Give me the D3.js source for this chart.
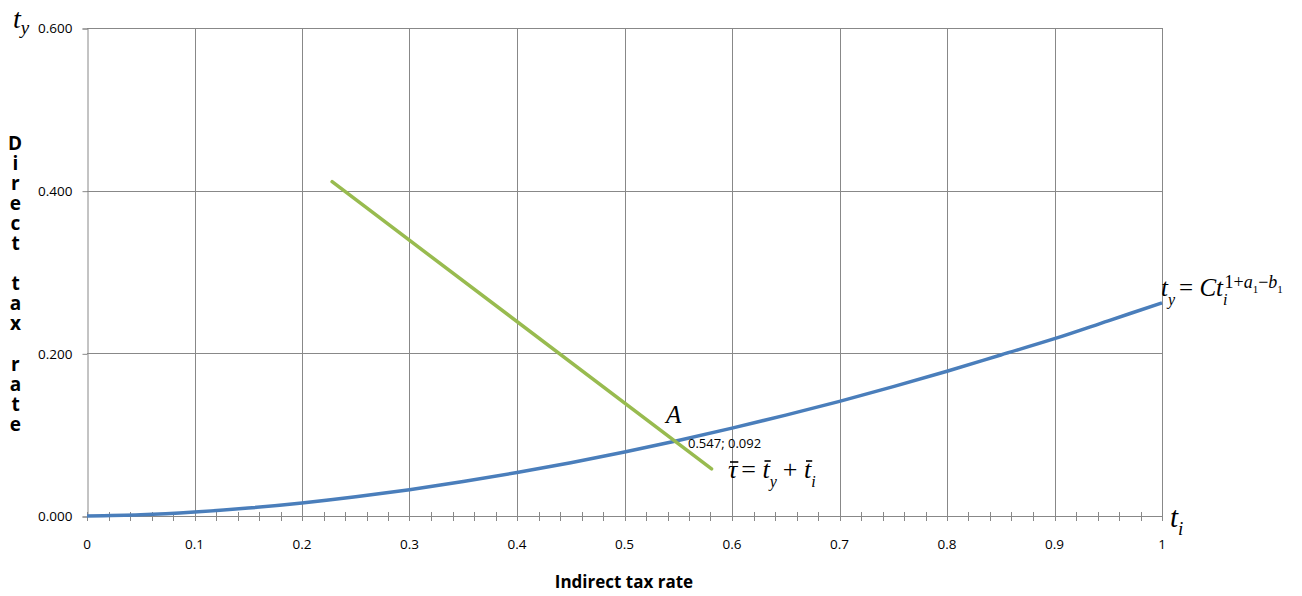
<!DOCTYPE html>
<html>
<head>
<meta charset="utf-8">
<script src="https://cdn.jsdelivr.net/npm/d3@7"></script>
<style>
  html, body { margin: 0; padding: 0; background: #fff; }
  svg { display: block; }
  .tick-lbl { font-family: "Open Sans", "Liberation Sans", sans-serif; font-size: 13px; fill: #000; }
  .math { font-family: "Liberation Serif", "DejaVu Serif", serif; fill: #000; }
</style>
</head>
<body>
<svg id="chart" width="1302" height="596"></svg>
<script>
// Indirect tax rate (x) against direct tax rate (y)
const tiValues = [0, 0.05, 0.1, 0.15, 0.2, 0.25, 0.3, 0.35, 0.4, 0.45, 0.5,
                  0.55, 0.6, 0.65, 0.7, 0.75, 0.8, 0.85, 0.9, 0.95, 1];
const tyValues = [0, 0.0014, 0.0048, 0.0097, 0.016, 0.0236, 0.0324, 0.0423, 0.0534, 0.0655, 0.0786,
                  0.0928, 0.108, 0.124, 0.141, 0.159, 0.178, 0.198, 0.218, 0.240, 0.262];
// Budget line: tau = t_y + t_i
const budgetTi = [0.228, 0.581];
const budgetTy = [0.411, 0.058];
// Intersection point A
const pointA = { ti: 0.547, ty: 0.092 };
const xTicks = [0, 0.1, 0.2, 0.3, 0.4, 0.5, 0.6, 0.7, 0.8, 0.9, 1];
const xTickLabels = ["0", "0.1", "0.2", "0.3", "0.4", "0.5", "0.6", "0.7", "0.8", "0.9", "1"];
const yTicks = [0, 0.2, 0.4, 0.6];
const yTickLabels = ["0.000", "0.200", "0.400", "0.600"];
const yTitle = "Direct tax rate";
const xTitle = "Indirect tax rate";

const svg = d3.select("#chart");
const plotL = 87, plotR = 1162, plotT = 28, plotB = 516;
const x = d3.scaleLinear().domain([0, 1]).range([plotL, plotR]);
const y = d3.scaleLinear().domain([0, 0.6]).range([plotB, plotT]);
const gridColor = "#888888";

// Vertical grid lines
svg.append("g").selectAll("line").data(xTicks.slice(1)).join("line")
  .attr("x1", d => Math.round(x(d)) + 0.5).attr("x2", d => Math.round(x(d)) + 0.5)
  .attr("y1", plotT).attr("y2", plotB)
  .attr("stroke", gridColor).attr("stroke-width", 1);

// Horizontal grid lines
svg.append("g").selectAll("line").data(yTicks.slice(1)).join("line")
  .attr("x1", plotL).attr("x2", plotR)
  .attr("y1", d => Math.round(y(d)) + 0.5).attr("y2", d => Math.round(y(d)) + 0.5)
  .attr("stroke", gridColor).attr("stroke-width", 1);

// Y axis
const yAxis = d3.axisLeft(y).tickValues(yTicks).tickSize(5)
  .tickFormat((d, i) => yTickLabels[i]).tickPadding(10);
const gy = svg.append("g").attr("transform", `translate(${plotL + 0.5},0.5)`).call(yAxis);
gy.select(".domain").attr("stroke", gridColor);
gy.selectAll(".tick line").attr("stroke", gridColor);
gy.selectAll(".tick text").attr("class", "tick-lbl").attr("fill", "#000")
  .style("font-size", "13.5px");

// X axis: line with minor ticks crossing it every 0.02
const minor = d3.range(0, 51).map(i => i / 50);
svg.append("line").attr("x1", plotL).attr("x2", plotR)
  .attr("y1", plotB + 0.5).attr("y2", plotB + 0.5).attr("stroke", gridColor);
svg.append("g").selectAll("line").data(minor).join("line")
  .attr("x1", d => Math.round(x(d)) + 0.5).attr("x2", d => Math.round(x(d)) + 0.5)
  .attr("y1", plotB - 4).attr("y2", plotB + 5)
  .attr("stroke", gridColor);
svg.append("g").selectAll("text").data(xTicks).join("text")
  .attr("class", "tick-lbl").style("font-size", "13.5px")
  .attr("x", d => x(d)).attr("y", plotB + 33)
  .attr("text-anchor", "middle")
  .text((d, i) => xTickLabels[i]);

// Curve t_y = C t_i^(1+a1-b1)
const line = d3.line().x(d => x(d[0])).y(d => y(d[1])).curve(d3.curveCatmullRom);
svg.append("path")
  .datum(tiValues.map((t, i) => [t, tyValues[i]]))
  .attr("d", line).attr("fill", "none")
  .attr("stroke", "#4a7ebb").attr("stroke-width", 3.5);

// Budget line
svg.append("path")
  .datum(budgetTi.map((t, i) => [t, budgetTy[i]]))
  .attr("d", d3.line().x(d => x(d[0])).y(d => y(d[1])))
  .attr("fill", "none").attr("stroke", "#98bb4f").attr("stroke-width", 3.5)
  .attr("stroke-linecap", "round");

// Point A label
svg.append("text").attr("class", "math")
  .attr("x", x(pointA.ti) - 9).attr("y", y(pointA.ty) - 18)
  .style("font-style", "italic").style("font-size", "25px").text("A");
svg.append("text").attr("class", "tick-lbl")
  .attr("x", x(pointA.ti) + 13).attr("y", y(pointA.ty) + 7)
  .style("font-size", "13px").text(pointA.ti + "; " + pointA.ty.toFixed(3));

// Axis letter symbols
const tyLbl = svg.append("text").attr("class", "math").attr("x", 13).attr("y", 28)
  .style("font-size", "28px");
tyLbl.append("tspan").style("font-style", "italic").text("t");
tyLbl.append("tspan").style("font-style", "italic").style("font-size", "19px")
  .attr("dy", 6).text("y");

const tiLbl = svg.append("text").attr("class", "math").attr("x", 1170).attr("y", 527)
  .style("font-size", "29px");
tiLbl.append("tspan").style("font-style", "italic").text("t");
tiLbl.append("tspan").style("font-style", "italic").style("font-size", "19px")
  .attr("dy", 8).text("i");

// Curve equation
const eq = svg.append("text").attr("class", "math").attr("x", 1161).attr("y", 296)
  .style("font-size", "25px");
eq.append("tspan").style("font-style", "italic").text("t");
eq.append("tspan").style("font-style", "italic").style("font-size", "16px").attr("dy", 9).text("y");
eq.append("tspan").attr("dy", -9).attr("dx", 4).text("= ");
eq.append("tspan").style("font-style", "italic").text("Ct");
eq.append("tspan").style("font-style", "italic").style("font-size", "16px").attr("dy", 9).text("i");
eq.append("tspan").style("font-size", "18px").attr("dy", -17).attr("dx", -3).text("1+");
eq.append("tspan").style("font-style", "italic").style("font-size", "18px").text("a");
eq.append("tspan").style("font-size", "11px").attr("dy", 5).text("1");
eq.append("tspan").style("font-size", "18px").attr("dy", -5).text("\u2212");
eq.append("tspan").style("font-style", "italic").style("font-size", "18px").text("b");
eq.append("tspan").style("font-size", "11px").attr("dy", 5).text("1");

// Budget equation: tau-bar = t_y-bar + t_i-bar
const beBase = 478;
const be = svg.append("text").attr("class", "math").attr("x", 728).attr("y", beBase)
  .style("font-size", "26px");
be.append("tspan").style("font-style", "italic").text("\u03C4");
be.append("tspan").attr("dx", 4).text("= ");
be.append("tspan").style("font-style", "italic").text("t");
be.append("tspan").style("font-style", "italic").style("font-size", "16px").attr("dy", 9).text("y");
be.append("tspan").attr("dy", -9).attr("dx", 6).text("+ ");
be.append("tspan").style("font-style", "italic").text("t");
be.append("tspan").style("font-style", "italic").style("font-size", "16px").attr("dy", 9).text("i");
// Bars over tau and the two t's
[[0, 16], [3, 17], [7, 17]].forEach(([idx, rise]) => {
  const r = be.node().getExtentOfChar(idx);
  svg.append("line")
    .attr("x1", r.x + 2).attr("x2", r.x + r.width + 1)
    .attr("y1", beBase - rise).attr("y2", beBase - rise)
    .attr("stroke", "#000").attr("stroke-width", 1.6);
});

// Y title, stacked letter by letter
svg.append("text")
  .attr("x", 15).attr("y", 130)
  .attr("writing-mode", "vertical-rl")
  .style("text-orientation", "upright")
  .style("letter-spacing", "-5.95px")
  .style("font-family", "\"Open Sans\", \"Liberation Sans\", sans-serif")
  .style("font-weight", "bold").style("font-size", "19px")
  .text(yTitle);

// X title
svg.append("text").attr("x", 624).attr("y", 588)
  .attr("text-anchor", "middle")
  .style("font-family", "\"Open Sans\", \"Liberation Sans\", sans-serif")
  .style("font-weight", "bold").style("font-size", "17px")
  .text(xTitle);
</script>
</body>
</html>
